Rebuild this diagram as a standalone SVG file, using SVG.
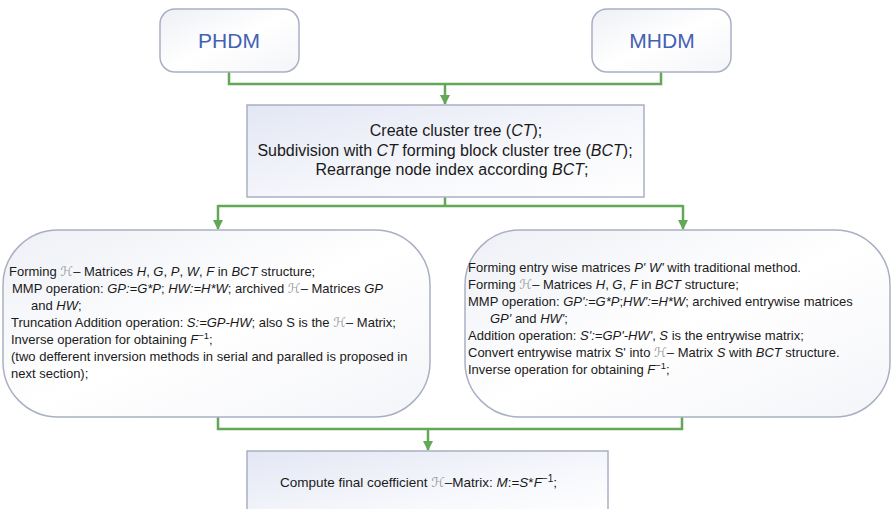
<svg xmlns="http://www.w3.org/2000/svg" width="892" height="509" viewBox="0 0 892 509">
<defs>
<linearGradient id="gBox" x1="0" y1="0" x2="1" y2="1">
<stop offset="0" stop-color="#e3e7f4"/>
<stop offset="0.6" stop-color="#f7f8fc"/>
<stop offset="1" stop-color="#ffffff"/>
</linearGradient>
<linearGradient id="gRound" x1="0" y1="0" x2="1" y2="1">
<stop offset="0" stop-color="#eef0f6"/>
<stop offset="0.5" stop-color="#ffffff"/>
<stop offset="1" stop-color="#f4f5f9"/>
</linearGradient>
<marker id="arr" viewBox="0 0 10 10" refX="9" refY="5" markerWidth="4" markerHeight="4" orient="auto" markerUnits="strokeWidth">
<path d="M0,0 L10,5 L0,10 z" fill="#62a857"/>
</marker>
<style>
.box{stroke:#a9b0c2;stroke-width:1.5;}
.t{font-family:"Liberation Sans",Arial,sans-serif;fill:#1a1a1a;}
.s{font-size:13px;}
.c{font-size:16px;}
.f{font-size:13.5px;}
.h{font-family:"DejaVu Serif","DejaVu Sans",serif;font-style:italic;fill:#9a9a9a;}
.i{font-style:italic;}
.top{font-family:"Liberation Sans",Arial,sans-serif;font-size:21px;fill:#4262b4;text-anchor:middle;}
.con{fill:none;stroke:#62a857;stroke-width:2.5;}
</style>
</defs>

<g id="connectors">
<path class="con" d="M229,72 V84 H661 V72"/>
<path class="con" d="M445,84 V104" marker-end="url(#arr)"/>
<path class="con" d="M445,197 V206 M218,206 H683"/>
<path class="con" d="M218,205 V229" marker-end="url(#arr)"/>
<path class="con" d="M683,205 V229" marker-end="url(#arr)"/>
<path class="con" d="M218,417 V429 H682 V417"/>
<path class="con" d="M428,429 V450" marker-end="url(#arr)"/>
</g>

<g id="phdm">
<rect class="box" x="160" y="9" width="139" height="63" rx="15" fill="url(#gRound)"/>
<text class="top" x="229" y="48">PHDM</text>
</g>

<g id="mhdm">
<rect class="box" x="592" y="9" width="139" height="63" rx="15" fill="url(#gRound)"/>
<text class="top" x="662" y="48">MHDM</text>
</g>

<g id="cluster">
<rect class="box" x="247" y="105" width="397" height="92" fill="url(#gBox)"/>
<text class="t c" text-anchor="middle" x="456" y="136">Create cluster tree (<tspan class="i">CT</tspan>);</text>
<text class="t c" text-anchor="middle" x="445" y="156">Subdivision with <tspan class="i">CT</tspan> forming block cluster tree (<tspan class="i">BCT</tspan>);</text>
<text class="t c" text-anchor="middle" x="452" y="175">Rearrange node index according <tspan class="i">BCT</tspan>;</text>
</g>

<g id="left">
<rect class="box" x="3" y="230" width="427" height="187" rx="55" fill="url(#gRound)"/>
<text class="t s" x="9" y="275.5">Forming <tspan class="h">ℋ</tspan>– Matrices <tspan class="i">H</tspan>, <tspan class="i">G</tspan>, <tspan class="i">P</tspan>, <tspan class="i">W</tspan>, <tspan class="i">F</tspan> in <tspan class="i">BCT</tspan> structure;</text>
<text class="t s" x="12" y="292.5">MMP operation: <tspan class="i">GP:=G*P</tspan>; <tspan class="i">HW:=H*W</tspan>; archived <tspan class="h">ℋ</tspan>– Matrices <tspan class="i">GP</tspan></text>
<text class="t s" x="31" y="309.5">and <tspan class="i">HW</tspan>;</text>
<text class="t s" x="11" y="326.5">Truncation Addition operation: <tspan class="i">S:=GP-HW</tspan>; also S is the <tspan class="h">ℋ</tspan>– Matrix;</text>
<text class="t s" x="11" y="343.5">Inverse operation for obtaining <tspan class="i">F</tspan><tspan dy="-5" font-size="9.5">−1</tspan><tspan dy="5">;</tspan></text>
<text class="t s" x="11" y="360.5">(two defferent inversion methods in serial and paralled is proposed in</text>
<text class="t s" x="11" y="377.5">next section);</text>
</g>

<g id="right">
<rect class="box" x="465" y="230" width="425" height="187" rx="55" fill="url(#gRound)"/>
<text class="t s" x="468" y="271.5">Forming entry wise matrices <tspan class="i">P' W'</tspan> with traditional method.</text>
<text class="t s" x="468" y="288.5">Forming <tspan class="h">ℋ</tspan>– Matrices <tspan class="i">H</tspan>, <tspan class="i">G</tspan>, <tspan class="i">F</tspan> in <tspan class="i">BCT</tspan> structure;</text>
<text class="t s" x="468" y="305.5">MMP operation: <tspan class="i">GP':=G*P</tspan>;<tspan class="i">HW':=H*W</tspan>; archived entrywise matrices</text>
<text class="t s" x="490" y="322.5"><tspan class="i">GP'</tspan> and <tspan class="i">HW'</tspan>;</text>
<text class="t s" x="468" y="340">Addition operation: <tspan class="i">S':=GP'-HW'</tspan>, <tspan class="i">S</tspan> is the entrywise matrix;</text>
<text class="t s" x="468" y="357">Convert entrywise matrix S' into <tspan class="h">ℋ</tspan>– Matrix <tspan class="i">S</tspan> with <tspan class="i">BCT</tspan> structure.</text>
<text class="t s" x="468" y="374">Inverse operation for obtaining <tspan class="i">F</tspan><tspan dy="-5" font-size="9.5">−1</tspan><tspan dy="5">;</tspan></text>
</g>

<g id="final">
<rect class="box" x="247" y="451" width="361" height="70" fill="url(#gBox)"/>
<text class="t f" x="280" y="487">Compute final coefficient  <tspan class="h">ℋ</tspan>–Matrix: <tspan class="i">M</tspan>:=<tspan class="i">S</tspan>*<tspan class="i">F</tspan><tspan dy="-5" font-size="10">−1</tspan><tspan dy="5">;</tspan></text>
</g>
</svg>
